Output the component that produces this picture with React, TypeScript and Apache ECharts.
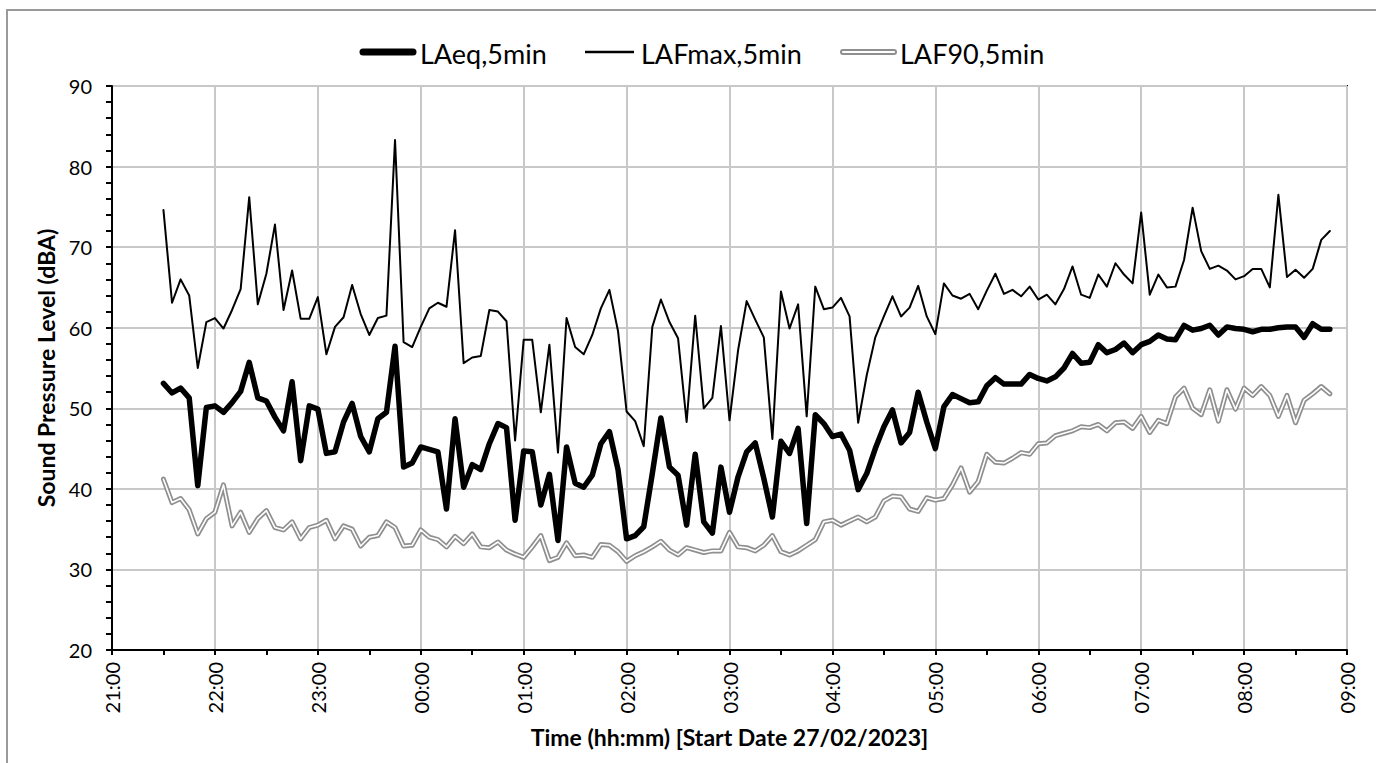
import React, { useEffect, useRef } from "react";
import * as echarts from "echarts";

// Sampling: first sample at 21:30, every 5 minutes (x = minutes after 21:00)
const FIRST_SAMPLE_MIN = 30;
const STEP_MIN = 5;

const xTickLabels = [
  "21:00", "22:00", "23:00", "00:00", "01:00", "02:00", "03:00",
  "04:00", "05:00", "06:00", "07:00", "08:00", "09:00",
];
const yMin = 20;
const yMax = 90;

const seriesNames = ["LAeq,5min", "LAFmax,5min", "LAF90,5min"];

const laeq = [
  53.1, 51.9, 52.5, 51.3, 40.4, 50.1, 50.3, 49.5, 50.7, 52.1, 55.7, 51.3, 50.9, 48.9, 47.2, 53.3, 43.5, 50.3, 49.9, 44.4, 44.6, 48.3, 50.6, 46.5, 44.6, 48.7, 49.5, 57.7, 42.7, 43.2, 45.2, 44.9, 44.6, 37.5, 48.7, 40.2, 43.0,
  42.4, 45.6, 48.1, 47.6, 36.1, 44.7, 44.6, 38.0, 41.8, 33.6, 45.2, 40.7, 40.2, 41.7, 45.6, 47.1, 42.4, 33.8, 34.2, 35.3, 41.9, 48.8, 42.7, 41.7, 35.5, 44.3, 35.9, 34.5, 42.7, 37.1, 41.5, 44.6, 45.7, 41.3, 36.5, 45.9, 44.4, 47.5,
  35.7, 49.2, 48.1, 46.5, 46.8, 44.8, 39.9, 41.9, 45.0, 47.7, 49.8, 45.7, 47.0, 52.0, 48.3, 45.0, 50.2, 51.7, 51.2, 50.7, 50.8, 52.8, 53.8, 53.0, 53.0, 53.0, 54.2, 53.7, 53.4, 53.9, 55.0, 56.8, 55.6, 55.7, 57.9,
  56.9, 57.3, 58.1, 56.9, 57.9, 58.3, 59.1, 58.6, 58.5, 60.3, 59.7, 59.9, 60.3, 59.1, 60.1, 59.9, 59.8, 59.5, 59.8, 59.8, 60.0, 60.1, 60.1, 58.8, 60.5, 59.8, 59.8,
];

const lafmax = [
  74.6, 63.1, 66.0, 64.0, 55.0, 60.7, 61.2, 59.9, 62.2, 64.8, 76.2, 62.9, 66.7, 72.8, 62.2, 67.1, 61.1, 61.1, 63.8, 56.7, 60.1, 61.3, 65.3, 61.7, 59.1, 61.2, 61.5, 83.3, 58.2, 57.6, 60.1, 62.4, 63.1, 62.6, 72.1, 55.6, 56.3,
  56.5, 62.2, 62.0, 60.8, 46.0, 58.5, 58.5, 49.5, 57.9, 44.5, 61.2, 57.6, 56.7, 59.1, 62.4, 64.7, 59.6, 49.6, 48.4, 45.3, 60.1, 63.5, 60.7, 58.7, 48.3, 61.5, 50.0, 51.3, 60.2, 48.5, 57.2, 63.3, 61.0, 58.8, 46.2, 64.5, 59.9, 62.9,
  49.0, 65.1, 62.3, 62.5, 63.7, 61.4, 48.2, 54.1, 58.8, 61.4, 63.9, 61.4, 62.5, 65.2, 61.4, 59.2, 65.5, 64.0, 63.6, 64.2, 62.3, 64.6, 66.7, 64.2, 64.7, 63.9, 65.1, 63.5, 64.1, 62.9, 64.8, 67.6, 64.1, 63.7, 66.6,
  65.1, 68.0, 66.6, 65.5, 74.3, 64.1, 66.6, 65.0, 65.1, 68.4, 74.9, 69.5, 67.3, 67.7, 67.1, 66.0, 66.4, 67.3, 67.3, 65.0, 76.5, 66.3, 67.2, 66.2, 67.3, 70.9, 72.0,
];

const laf90 = [
  41.2, 38.3, 38.8, 37.4, 34.4, 36.3, 37.1, 40.5, 35.4, 37.1, 34.6, 36.3, 37.3, 35.2, 34.9, 35.9, 33.8, 35.2, 35.5, 36.1, 33.8, 35.4, 35.0, 32.9, 34.0, 34.2, 35.9, 35.2, 32.9, 33.0, 34.9, 34.0, 33.7, 32.8, 34.1, 33.2, 34.4,
  32.8, 32.7, 33.4, 32.4, 31.9, 31.5, 32.8, 34.2, 31.1, 31.5, 33.3, 31.7, 31.8, 31.5, 33.1, 33.0, 32.2, 31.0, 31.7, 32.2, 32.8, 33.5, 32.4, 31.8, 32.7, 32.4, 32.1, 32.3, 32.3, 34.6, 32.8, 32.7, 32.3, 33.0, 34.2, 32.2, 31.8, 32.3,
  33.0, 33.7, 35.9, 36.1, 35.5, 36.0, 36.5, 35.9, 36.5, 38.5, 39.1, 39.0, 37.5, 37.2, 38.9, 38.6, 38.8, 40.5, 42.6, 39.6, 40.9, 44.3, 43.3, 43.2, 43.8, 44.5, 44.3, 45.6, 45.7, 46.6, 46.9, 47.2, 47.7, 47.6, 48.0,
  47.2, 48.2, 48.3, 47.5, 49.0, 47.0, 48.5, 48.1, 51.4, 52.5, 50.0, 49.2, 52.3, 48.4, 52.3, 49.9, 52.5, 51.6, 52.7, 51.6, 49.0, 51.6, 48.2, 51.0, 51.8, 52.7, 51.8,
];

const FONT = "Lato, 'Noto Sans', sans-serif";
const GRAY_DOUBLE = "#8f8f8f";

const toPoints = (vals: number[]) =>
  vals.map((v, i) => [FIRST_SAMPLE_MIN + i * STEP_MIN, v]);

export default function App() {
  const ref = useRef<HTMLDivElement>(null);

  useEffect(() => {
    if (!ref.current) return;
    const chart = echarts.init(ref.current, undefined, { renderer: "svg" });

    const legendY = 52;
    const legendFont = 27;
    const legendText = (x: number, text: string) => ({
      type: "text",
      x,
      y: legendY + 1,
      style: {
        text,
        fontSize: legendFont,
        fontFamily: FONT,
        fill: "#000",
        textVerticalAlign: "middle",
        verticalAlign: "middle",
      },
    });

    const option: any = {
      animation: false,
      backgroundColor: "#ffffff",
      textStyle: { fontFamily: FONT },
      grid: {
        left: 112,
        top: 86,
        width: 1235,
        height: 564,
        show: true,
        borderColor: "#000",
        borderWidth: 2,
        containLabel: false,
      },
      xAxis: {
        type: "value",
        min: 0,
        max: 720,
        interval: 60,
        name: "Time (hh:mm) [Start Date 27/02/2023]",
        nameLocation: "middle",
        nameGap: 75,
        nameTextStyle: { fontFamily: FONT, fontWeight: "bold", fontSize: 23, color: "#000" },
        axisLine: { show: true, onZero: false, lineStyle: { color: "#000", width: 2 } },
        axisTick: { show: true, inside: false, length: 5, lineStyle: { color: "#000", width: 2 } },
        minorTick: { show: true, splitNumber: 2, length: 5, lineStyle: { color: "#000", width: 2 } },
        splitLine: { show: true, lineStyle: { color: "#c8c8c8", width: 2 } },
        axisLabel: {
          rotate: 90,
          margin: 12,
          fontSize: 20,
          color: "#000",
          fontFamily: FONT,
          formatter: (v: number) => xTickLabels[Math.round(v / 60)] ?? "",
        },
      },
      yAxis: {
        type: "value",
        min: yMin,
        max: yMax,
        interval: 10,
        name: "Sound Pressure Level (dBA)",
        nameLocation: "middle",
        nameGap: 55,
        nameTextStyle: { fontFamily: FONT, fontWeight: "bold", fontSize: 23, color: "#000" },
        axisLine: { show: true, onZero: false, lineStyle: { color: "#000", width: 2 } },
        axisTick: { show: true, inside: false, length: 6, lineStyle: { color: "#000", width: 2 } },
        minorTick: { show: true, splitNumber: 5, length: 6, lineStyle: { color: "#000", width: 2 } },
        splitLine: { show: true, lineStyle: { color: "#c8c8c8", width: 2 } },
        axisLabel: { margin: 20, fontSize: 20, color: "#000", fontFamily: FONT },
      },
      series: [
        {
          name: seriesNames[2],
          type: "line",
          data: toPoints(laf90),
          showSymbol: false,
          symbol: "none",
          lineStyle: { color: GRAY_DOUBLE, width: 5, join: "round", cap: "round" },
          z: 2,
        },
        {
          name: seriesNames[2] + " inner",
          type: "line",
          data: toPoints(laf90),
          showSymbol: false,
          symbol: "none",
          lineStyle: { color: "#ffffff", width: 1.6, join: "round", cap: "round" },
          z: 3,
        },
        {
          name: seriesNames[1],
          type: "line",
          data: toPoints(lafmax),
          showSymbol: false,
          symbol: "none",
          lineStyle: { color: "#000", width: 2, join: "round", cap: "round" },
          z: 4,
        },
        {
          name: seriesNames[0],
          type: "line",
          data: toPoints(laeq),
          showSymbol: false,
          symbol: "none",
          lineStyle: { color: "#000", width: 5.5, join: "round", cap: "round" },
          z: 5,
        },
      ],
      graphic: [
        {
          type: "rect",
          shape: { x: 7, y: 10, width: 1420, height: 800 },
          style: { fill: "none", stroke: "#9a9a9a", lineWidth: 2 },
          z: -1,
          silent: true,
        },
        {
          type: "line",
          shape: { x1: 363, y1: legendY, x2: 413, y2: legendY },
          style: { stroke: "#000", lineWidth: 7, lineCap: "round" },
        },
        legendText(420, seriesNames[0]),
        {
          type: "line",
          shape: { x1: 585, y1: legendY, x2: 634, y2: legendY },
          style: { stroke: "#000", lineWidth: 2.5 },
        },
        legendText(641, seriesNames[1]),
        {
          type: "line",
          shape: { x1: 843, y1: legendY, x2: 894, y2: legendY },
          style: { stroke: GRAY_DOUBLE, lineWidth: 6, lineCap: "round" },
        },
        {
          type: "line",
          shape: { x1: 843, y1: legendY, x2: 894, y2: legendY },
          style: { stroke: "#fff", lineWidth: 2.2, lineCap: "round" },
        },
        legendText(900, seriesNames[2]),
      ],
    };

    chart.setOption(option);
    return () => chart.dispose();
  }, []);

  return (
    <div
      ref={ref}
      style={{ position: "fixed", left: 0, top: 0, width: 1376, height: 763, background: "#fff" }}
    />
  );
}
